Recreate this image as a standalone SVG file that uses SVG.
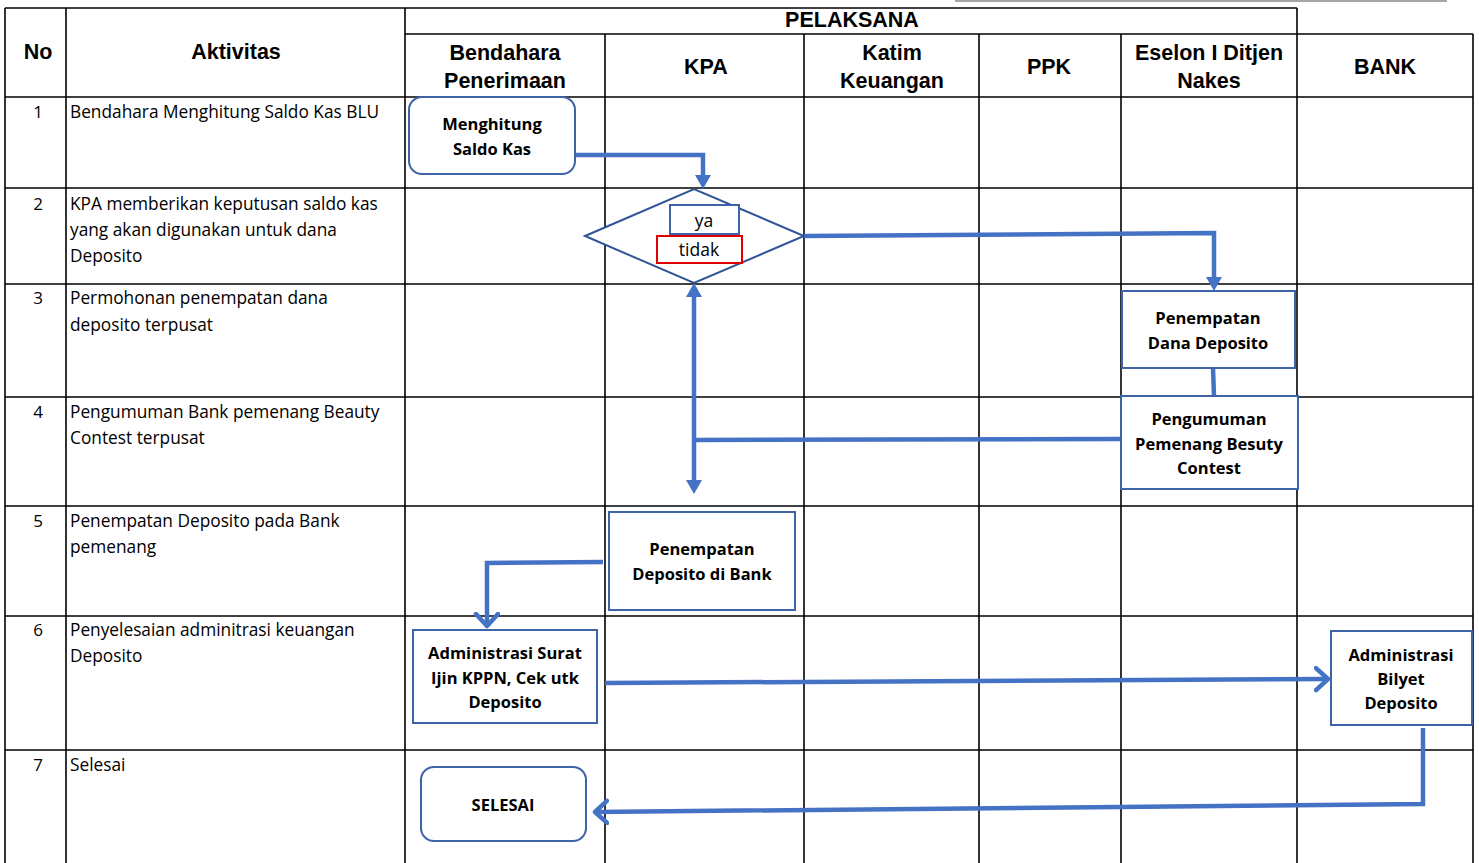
<svg xmlns="http://www.w3.org/2000/svg" width="1479" height="863" viewBox="0 0 1479 863">
<style>
.grid line{stroke:#000;stroke-width:1.6}
.hdr{font-family:"Liberation Sans",Arial,sans-serif;font-weight:bold;font-size:21.5px;fill:#000;text-anchor:middle}
.act{font-family:"Open Sans","Noto Sans",sans-serif;font-size:17.3px;fill:#000}
.num{font-family:"Open Sans","Noto Sans",sans-serif;font-size:17px;fill:#000;text-anchor:middle}
.box{fill:#fff;stroke:#3E63A6;stroke-width:2}
.lbl{font-family:"Open Sans","Noto Sans",sans-serif;font-weight:bold;font-size:16.5px;fill:#000;text-anchor:middle}
.opt{font-family:"Open Sans","Noto Sans",sans-serif;font-size:17.5px;fill:#000;text-anchor:middle}
.con{fill:none;stroke:#4472C4;stroke-width:4.5}
</style>
<defs>
<marker id="tri" markerUnits="userSpaceOnUse" markerWidth="16" markerHeight="16" refX="0" refY="8" orient="auto">
<path d="M0,0 L14,8 L0,16 z" fill="#4472C4"/>
</marker>
<marker id="chev" markerUnits="userSpaceOnUse" markerWidth="20" markerHeight="30" refX="14" refY="13" orient="auto">
<path d="M2,2 L14,13 L2,24" fill="none" stroke="#4472C4" stroke-width="4.5" stroke-linecap="round" stroke-linejoin="round"/>
</marker>
</defs>
<rect width="1479" height="863" fill="#fff"/>
<line x1="955" y1="1" x2="1447" y2="1" stroke="#888" stroke-width="1.5"/>
<g class="grid">
<line x1="5" y1="8" x2="1297" y2="8"/>
<line x1="405" y1="34" x2="1473" y2="34"/>
<line x1="5" y1="97" x2="1473" y2="97"/>
<line x1="5" y1="188" x2="1473" y2="188"/>
<line x1="5" y1="284" x2="1473" y2="284"/>
<line x1="5" y1="397" x2="1473" y2="397"/>
<line x1="5" y1="506" x2="1473" y2="506"/>
<line x1="5" y1="616" x2="1473" y2="616"/>
<line x1="5" y1="750" x2="1473" y2="750"/>
<line x1="5" y1="8" x2="5" y2="863"/>
<line x1="66" y1="8" x2="66" y2="863"/>
<line x1="405" y1="8" x2="405" y2="863"/>
<line x1="605" y1="34" x2="605" y2="863"/>
<line x1="804" y1="34" x2="804" y2="863"/>
<line x1="979" y1="34" x2="979" y2="863"/>
<line x1="1121" y1="34" x2="1121" y2="863"/>
<line x1="1297" y1="8" x2="1297" y2="863"/>
<line x1="1473" y1="34" x2="1473" y2="863"/>
</g>
<g id="header">
<text class="hdr" x="38" y="59">No</text>
<text class="hdr" x="236" y="59">Aktivitas</text>
<text class="hdr" x="852" y="27" font-size="20.2">PELAKSANA</text>
<text class="hdr" x="505" y="60">Bendahara</text>
<text class="hdr" x="505" y="88">Penerimaan</text>
<text class="hdr" x="706" y="74">KPA</text>
<text class="hdr" x="892" y="60">Katim</text>
<text class="hdr" x="892" y="88">Keuangan</text>
<text class="hdr" x="1049" y="74">PPK</text>
<text class="hdr" x="1209" y="60">Eselon I Ditjen</text>
<text class="hdr" x="1209" y="88">Nakes</text>
<text class="hdr" x="1385" y="74">BANK</text>
</g>
<g id="activities">
<text class="num" x="38" y="118">1</text>
<text class="act" x="70" y="118">Bendahara Menghitung Saldo Kas BLU</text>
<text class="num" x="38" y="210">2</text>
<text class="act" x="70" y="210">KPA memberikan keputusan saldo kas</text>
<text class="act" x="70" y="236">yang akan digunakan untuk dana</text>
<text class="act" x="70" y="262">Deposito</text>
<text class="num" x="38" y="304">3</text>
<text class="act" x="70" y="304">Permohonan penempatan dana</text>
<text class="act" x="70" y="331">deposito terpusat</text>
<text class="num" x="38" y="418">4</text>
<text class="act" x="70" y="418">Pengumuman Bank pemenang Beauty</text>
<text class="act" x="70" y="444">Contest terpusat</text>
<text class="num" x="38" y="527">5</text>
<text class="act" x="70" y="527">Penempatan Deposito pada Bank</text>
<text class="act" x="70" y="553">pemenang</text>
<text class="num" x="38" y="636">6</text>
<text class="act" x="70" y="636">Penyelesaian adminitrasi keuangan</text>
<text class="act" x="70" y="662">Deposito</text>
<text class="num" x="38" y="771">7</text>
<text class="act" x="70" y="771">Selesai</text>
</g>
<g id="connectors">
<path class="con" d="M575,155 H703 V175" marker-end="url(#tri)"/>
<path class="con" d="M804,236 L1214,233 V277" marker-end="url(#tri)"/>
<path class="con" d="M1213,368 L1214,396"/>
<path class="con" d="M1121,439 L694,440"/>
<path class="con" d="M694,440 V297" marker-end="url(#tri)"/>
<path class="con" d="M694,440 V480" marker-end="url(#tri)"/>
<path class="con" d="M603,562 L487,563 V626" marker-end="url(#chev)"/>
<path class="con" d="M605,683 L1328,679" marker-end="url(#chev)"/>
<path class="con" d="M1423,728 V804 L595,812" marker-end="url(#chev)"/>
</g>
<g id="n1">
<rect class="box" x="409" y="97" width="166" height="77" rx="13"/>
<text class="lbl" x="492" y="130">Menghitung</text>
<text class="lbl" x="492" y="155">Saldo Kas</text>
</g>
<g id="n2">
<polygon points="585,236 694,189 804,236 694,283" fill="#fff" stroke="#2F5597" stroke-width="2"/>
<rect x="670" y="205" width="69" height="29" fill="#fff" stroke="#3E63A6" stroke-width="2"/>
<text class="opt" x="704" y="227">ya</text>
<rect x="657" y="236" width="85" height="27" fill="#fff" stroke="#E00000" stroke-width="2"/>
<text class="opt" x="699" y="256">tidak</text>
</g>
<g id="n3">
<rect class="box" x="1122" y="291" width="173" height="77"/>
<text class="lbl" x="1208" y="324">Penempatan</text>
<text class="lbl" x="1208" y="349">Dana Deposito</text>
</g>
<g id="n4">
<rect class="box" x="1121" y="396" width="177" height="93"/>
<text class="lbl" x="1209" y="425">Pengumuman</text>
<text class="lbl" x="1209" y="450">Pemenang Besuty</text>
<text class="lbl" x="1209" y="474">Contest</text>
</g>
<g id="n5">
<rect class="box" x="609" y="512" width="186" height="98"/>
<text class="lbl" x="702" y="555">Penempatan</text>
<text class="lbl" x="702" y="580">Deposito di Bank</text>
</g>
<g id="n6">
<rect class="box" x="413" y="630" width="184" height="93"/>
<text class="lbl" x="505" y="659">Administrasi Surat</text>
<text class="lbl" x="505" y="684">Ijin KPPN, Cek utk</text>
<text class="lbl" x="505" y="708">Deposito</text>
</g>
<g id="n7">
<rect class="box" x="1331" y="631" width="141" height="94"/>
<text class="lbl" x="1401" y="661">Administrasi</text>
<text class="lbl" x="1401" y="685">Bilyet</text>
<text class="lbl" x="1401" y="709">Deposito</text>
</g>
<g id="n8">
<rect class="box" x="421" y="767" width="165" height="74" rx="13"/>
<text class="lbl" x="503" y="811">SELESAI</text>
</g>
</svg>
